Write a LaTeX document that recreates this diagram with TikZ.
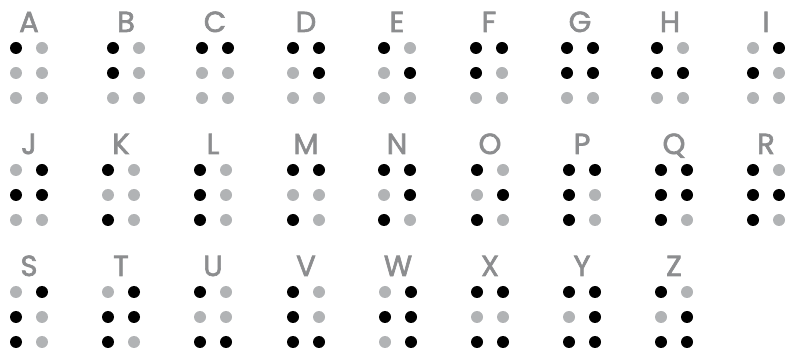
\documentclass[tikz,border=0pt]{standalone}
\usepackage{fontspec}
\newfontfamily\letterfont{Poppins}[FakeBold=2.2]
\definecolor{dotgray}{HTML}{B1B3B5}
\definecolor{lettergray}{HTML}{8C8D8F}
\tikzset{
  letter/.style={text=lettergray, font=\letterfont\fontsize{29}{29}\selectfont, anchor=base, inner sep=0pt},
  dotnode/.style={circle, minimum size=12pt, inner sep=0pt, draw=none},
}
\newcommand{\dotcol}[1]{\ifnum#1=1 black\else dotgray\fi}
\begin{document}
\begin{tikzpicture}[x=1pt,y=1pt]
\useasboundingbox (0,0) rectangle (795,-352);
\foreach \L/\x/\y/\a/\b/\c/\d/\e/\f in {
 A/16/32/1/0/0/0/0/0, B/113/32/1/0/1/0/0/0, C/202/32/1/1/0/0/0/0,
 D/293/32/1/1/0/1/0/0, E/384/32/1/0/0/1/0/0, F/476/32/1/1/1/0/0/0,
 G/567/32/1/1/1/1/0/0, H/657/32/1/0/1/1/0/0, I/753/32/0/1/1/0/0/0,
 J/16/154/0/1/1/1/0/0, K/108/154/1/0/0/0/1/0, L/200/154/1/0/1/0/1/0,
 M/293/154/1/1/0/0/1/0, N/384/154/1/1/0/1/1/0, O/477/154/1/0/0/1/1/0,
 P/569/154/1/1/1/0/1/0, Q/661/154/1/1/1/1/1/0, R/753/154/1/0/1/1/1/0,
 S/16/276/0/1/1/0/1/0, T/108/276/0/1/1/1/1/0, U/200/276/1/0/0/0/1/1,
 V/293/276/1/0/1/0/1/1, W/385/276/0/1/1/1/0/1, X/477/276/1/1/0/0/1/1,
 Y/569/276/1/1/0/1/1/1, Z/661/276/1/0/0/1/1/1}{
  \node[letter] (lbl\L) at (\x+13,-\y) {\L};
  \node[dotnode, fill=\dotcol{\a}] (d\L1) at (\x,-\y-16) {};
  \node[dotnode, fill=\dotcol{\b}] (d\L4) at (\x+26,-\y-16) {};
  \node[dotnode, fill=\dotcol{\c}] (d\L2) at (\x,-\y-41) {};
  \node[dotnode, fill=\dotcol{\d}] (d\L5) at (\x+26,-\y-41) {};
  \node[dotnode, fill=\dotcol{\e}] (d\L3) at (\x,-\y-66) {};
  \node[dotnode, fill=\dotcol{\f}] (d\L6) at (\x+26,-\y-66) {};
}
\end{tikzpicture}
\end{document}
